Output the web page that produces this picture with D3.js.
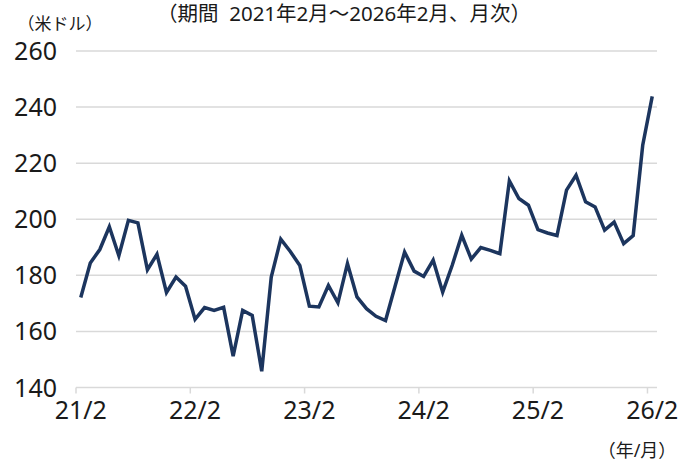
<!DOCTYPE html>
<html>
<head>
<meta charset="utf-8">
<script src="https://cdn.jsdelivr.net/npm/d3@7"></script>
<style>
  body { margin:0; background:#fff; }
  text { font-family:"Noto Sans","Noto Sans CJK JP",sans-serif; fill:#1a1a1a; }
</style>
</head>
<body>
<div id="chart"></div>
<script>
// monthly, 2021/2 - 2026/2
var months = [
  "2021/02","2021/03","2021/04","2021/05","2021/06","2021/07","2021/08","2021/09","2021/10","2021/11","2021/12",
  "2022/01","2022/02","2022/03","2022/04","2022/05","2022/06","2022/07","2022/08","2022/09","2022/10","2022/11","2022/12",
  "2023/01","2023/02","2023/03","2023/04","2023/05","2023/06","2023/07","2023/08","2023/09","2023/10","2023/11","2023/12",
  "2024/01","2024/02","2024/03","2024/04","2024/05","2024/06","2024/07","2024/08","2024/09","2024/10","2024/11","2024/12",
  "2025/01","2025/02","2025/03","2025/04","2025/05","2025/06","2025/07","2025/08","2025/09","2025/10","2025/11","2025/12",
  "2026/01","2026/02"
];
var prices = [
  172.1,184.4,189.2,197.3,187.0,199.6,198.7,182.0,187.5,173.9,179.4,
  176.1,164.3,168.5,167.5,168.6,151.2,167.5,165.7,145.8,179.4,192.9,188.5,
  183.5,169.0,168.7,176.4,170.2,184.2,172.3,168.1,165.4,163.9,176.1,188.3,
  181.5,179.6,185.4,174.0,183.6,194.3,185.8,189.9,188.9,187.7,213.7,207.4,
  205.0,196.3,195.1,194.2,210.4,215.7,206.2,204.4,196.1,199.0,191.3,194.2,
  226.4,243.8
];
var xTickMonths = ["2021/02","2022/02","2023/02","2024/02","2025/02","2026/02"];
var xTickLabels = ["21/2","22/2","23/2","24/2","25/2","26/2"];
var yTicks = [140,160,180,200,220,240,260];

var width = 691, height = 463;

var svg = d3.select("#chart")
            .append("svg")
            .attr("width", width)
            .attr("height", height);

var x = d3.scaleBand().domain(months).range([76, 657]).paddingInner(0).paddingOuter(0);
var y = d3.scaleLinear().domain([140, 260]).range([387.5, 51]);
var bw = x.bandwidth();

// gridlines
svg.selectAll(".grid")
    .data(yTicks)
    .enter().append("line")
    .attr("class", "grid")
    .attr("x1", 76).attr("x2", 657)
    .attr("y1", function(d){ return y(d); })
    .attr("y2", function(d){ return y(d); })
    .attr("stroke", "#d9d9d9")
    .attr("stroke-width", 1.5);

// y labels
svg.selectAll(".ylab")
    .data(yTicks)
    .enter().append("text")
    .attr("class", "ylab")
    .attr("x", 57)
    .attr("y", function(d){ return y(d); })
    .attr("dy", "0.36em")
    .attr("text-anchor", "end")
    .style("font-size", "25px")
    .text(function(d){ return d; });

// x tick marks at category boundaries
svg.selectAll(".xtick")
    .data(xTickMonths)
    .enter().append("line")
    .attr("class", "xtick")
    .attr("x1", function(d){ return x(d); })
    .attr("x2", function(d){ return x(d); })
    .attr("y1", y(140)).attr("y2", y(140) + 6)
    .attr("stroke", "#d9d9d9")
    .attr("stroke-width", 1.5);

svg.selectAll(".xlab")
    .data(xTickMonths)
    .enter().append("text")
    .attr("class", "xlab")
    .attr("x", function(d){ return x(d) + bw / 2; })
    .attr("y", 419)
    .attr("text-anchor", "middle")
    .style("font-size", "25px")
    .text(function(d, i){ return xTickLabels[i]; });

// price line
var line = d3.line()
    .x(function(d, i){ return x(months[i]) + bw / 2; })
    .y(function(d){ return y(d); });

svg.append("path")
    .datum(prices)
    .attr("d", line)
    .attr("fill", "none")
    .attr("stroke", "#1c355e")
    .attr("stroke-width", 3.5)
    .attr("stroke-linejoin", "miter");

// titles
svg.append("text")
    .attr("x", 344).attr("y", 21)
    .attr("text-anchor", "middle")
    .style("font-size", "20.5px")
    .text("（期間\u00a0\u00a02021年2月～2026年2月、月次）");

svg.append("text")
    .attr("x", 60).attr("y", 30)
    .attr("text-anchor", "middle")
    .style("font-size", "17px")
    .text("（米ドル）");

svg.append("text")
    .attr("x", 637).attr("y", 457)
    .attr("text-anchor", "middle")
    .style("font-size", "18px")
    .text("（年/月）");
</script>
</body>
</html>
